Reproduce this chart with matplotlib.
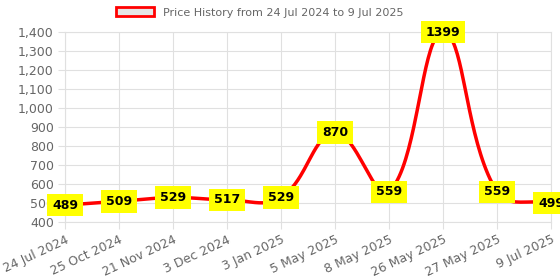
import matplotlib
matplotlib.use('Agg')
import matplotlib.pyplot as plt
import numpy as np
from matplotlib.patches import Patch

dates = ['24 Jul 2024', '25 Oct 2024', '21 Nov 2024', '3 Dec 2024', '3 Jan 2025',
         '5 May 2025', '8 May 2025', '26 May 2025', '27 May 2025', '9 Jul 2025']
prices = [489, 509, 529, 517, 529, 870, 559, 1399, 559, 499]
y_ticks = list(range(400, 1401, 100))

GRID = '#e0e0e0'
TXT = '#666666'


def spline_path(ax, xs, ys, tension=0.4, steps=40):
    # same idea as chart.js splineCurve, done in pixel space
    pts = ax.transData.transform(np.column_stack([xs, ys]))
    n = len(pts)
    c_prev = np.zeros_like(pts)
    c_next = np.zeros_like(pts)
    for i in range(n):
        p0 = pts[max(i - 1, 0)]
        p1 = pts[i]
        p2 = pts[min(i + 1, n - 1)]
        d01 = np.hypot(*(p1 - p0))
        d12 = np.hypot(*(p2 - p1))
        tot = d01 + d12
        s01 = d01 / tot if tot else 0
        s12 = d12 / tot if tot else 0
        c_prev[i] = p1 - tension * s01 * (p2 - p0)
        c_next[i] = p1 + tension * s12 * (p2 - p0)
    out = [pts[0]]
    t = np.linspace(0, 1, steps)[1:, None]
    for i in range(n - 1):
        a, b, c, d = pts[i], c_next[i], c_prev[i + 1], pts[i + 1]
        seg = ((1 - t) ** 3) * a + 3 * ((1 - t) ** 2) * t * b + 3 * (1 - t) * t ** 2 * c + t ** 3 * d
        out.extend(seg)
    out = ax.transData.inverted().transform(np.array(out))
    return out[:, 0], out[:, 1]


fig = plt.figure(figsize=(5.6, 2.8), dpi=100)
ax = fig.add_axes([0.116, 0.207, 0.868, 0.679])

x = np.arange(len(dates))
ax.set_xlim(0, len(dates) - 1)
ax.set_ylim(400, 1400)

ax.set_yticks(y_ticks)
ax.set_yticklabels([f'{v:,}' for v in y_ticks])
ax.set_xticks(x)
ax.set_xticklabels(dates, rotation=25, ha='right', rotation_mode='anchor')
ax.tick_params(colors=GRID, labelcolor=TXT, labelsize=9, length=5, width=0.8, pad=3)
ax.grid(True, color=GRID, linewidth=0.8)
ax.set_axisbelow(True)
for s in ax.spines.values():
    s.set_color(GRID)
    s.set_linewidth(0.8)

sx, sy = spline_path(ax, x, prices)
ax.plot(sx, sy, color='red', linewidth=2.5, solid_capstyle='round', clip_on=False, zorder=3)

for xi, p in zip(x, prices):
    ax.text(xi, p, str(p), ha='center', va='center', fontsize=9, fontweight='bold',
            color='black', zorder=5, clip_on=False,
            bbox=dict(boxstyle='square,pad=0.38', facecolor='yellow', edgecolor='none'))

handle = Patch(facecolor='#e6e6e6', edgecolor='red', linewidth=2)
fig.legend([handle], ['Price History from 24 Jul 2024 to 9 Jul 2025'], loc='upper center',
           bbox_to_anchor=(0.464, 1.01), frameon=False, fontsize=8, labelcolor=TXT,
           handlelength=3.4, handleheight=0.9)

fig.savefig('out.png', dpi=100)
